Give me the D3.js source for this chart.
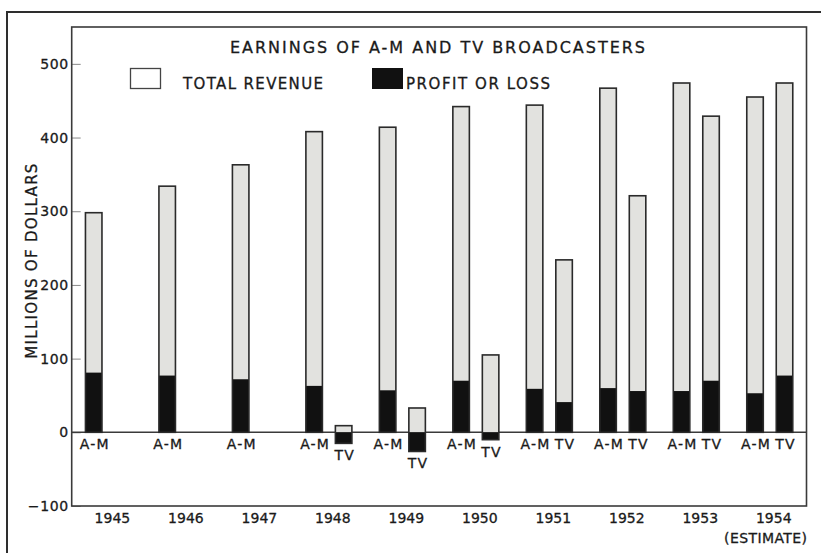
<!DOCTYPE html>
<html>
<head>
<meta charset="utf-8">
<script src="https://cdn.jsdelivr.net/npm/d3@7"></script>
<style>
  body { margin: 0; background: #fff; }
  text { font-family: "DejaVu Sans", sans-serif; fill: #1a1a1a; stroke: #1a1a1a; stroke-width: 0.3px; }
  .yAxis .tick line { stroke: #8a8a8a; }
  .yAxis .tick text { font-size: 14px; letter-spacing: 0.6px; }
</style>
</head>
<body>
<div id="chart"></div>
<script>
// DATA
const years = ["1945", "1946", "1947", "1948", "1949", "1950", "1951", "1952", "1953", "1954"];
const series = ["A-M", "TV"];
const amRevenue = [298, 334, 363, 408, 414, 442, 444, 467, 474, 455];
const amProfit = [81, 77, 72, 63, 57, 70, 59, 60, 56, 53];
const tvRevenue = [null, null, null, 9, 33, 105, 234, 321, 429, 474];
const tvProfit = [null, null, null, -15, -26, -10, 41, 56, 70, 77];
const yTicks = [-100, 0, 100, 200, 300, 400, 500];

const WIDTH = 821;
const HEIGHT = 553;
const PLOT = { LEFT: 71.7, RIGHT: 806.5, TOP: 27, BOTTOM: 506 };

const svg = d3
  .select("#chart")
  .append("svg")
  .attr("width", WIDTH)
  .attr("height", HEIGHT);

// PAGE BORDER (scan edge)
svg.append("path")
  .attr("d", `M7,${HEIGHT} V12 H${WIDTH}`)
  .attr("fill", "none")
  .attr("stroke", "#2e2e2e")
  .attr("stroke-width", 2);

// SCALES
const x0 = d3.scaleBand().domain(years).range([PLOT.LEFT, PLOT.RIGHT]).paddingInner(0);
const x1 = d3.scaleBand().domain(series).range([13.75, 59.75]).paddingInner(0.44);
const y = d3.scaleLinear().domain([-100, 550]).range([PLOT.BOTTOM, PLOT.TOP]);

// table built from arrays
const bars = [];
years.forEach((yr, i) => {
  bars.push({ year: yr, kind: "A-M", revenue: amRevenue[i], profit: amProfit[i] });
  if (tvRevenue[i] !== null) {
    bars.push({ year: yr, kind: "TV", revenue: tvRevenue[i], profit: tvProfit[i] });
  }
});

// AXIS
const yAxisGroup = svg.append("g")
  .attr("class", "yAxis")
  .attr("transform", `translate(${PLOT.LEFT}, 0)`)
  .call(d3.axisLeft(y).tickValues(yTicks).tickSize(-9).tickPadding(3))
  .call((g) => g.select(".domain").remove());

// ZERO LINE
svg.append("line")
  .attr("x1", PLOT.LEFT)
  .attr("x2", PLOT.RIGHT)
  .attr("y1", y(0))
  .attr("y2", y(0))
  .attr("stroke", "#3a3a3a")
  .attr("stroke-width", 1.6);

// BARS
const barG = svg.append("g")
  .selectAll("g")
  .data(bars)
  .enter()
  .append("g")
  .attr("transform", (d) => `translate(${x0(d.year) + x1(d.kind)}, 0)`);

barG.append("rect")
  .attr("x", 0)
  .attr("y", (d) => y(d.revenue))
  .attr("width", x1.bandwidth())
  .attr("height", (d) => y(0) - y(d.revenue))
  .attr("fill", "#e2e2df");

barG.append("rect")
  .attr("x", 0)
  .attr("y", (d) => y(Math.max(d.profit, 0)))
  .attr("width", x1.bandwidth())
  .attr("height", (d) => Math.abs(y(0) - y(d.profit)))
  .attr("fill", "#111");

barG.append("rect")
  .attr("x", 0)
  .attr("y", (d) => y(d.revenue))
  .attr("width", x1.bandwidth())
  .attr("height", (d) => y(Math.min(d.profit, 0)) - y(d.revenue))
  .attr("fill", "none")
  .attr("stroke", "#2a2a2a")
  .attr("stroke-width", 1.6);

// BAR LABELS
barG.append("text")
  .attr("x", x1.bandwidth() / 2 + 1)
  .attr("y", (d) => y(Math.min(d.profit, 0)) + 17)
  .attr("text-anchor", "middle")
  .attr("font-size", "14px")
  .attr("letter-spacing", "1.2px")
  .text((d) => d.kind);

// YEAR LABELS
svg.append("g")
  .selectAll("text")
  .data(years)
  .enter()
  .append("text")
  .attr("x", (d) => x0(d) + x0.bandwidth() / 2 + 4)
  .attr("y", 523)
  .attr("text-anchor", "middle")
  .attr("font-size", "14px")
  .text((d) => d);

svg.append("text")
  .attr("x", x0("1954") + x0.bandwidth() / 2 - 4)
  .attr("y", 543)
  .attr("text-anchor", "middle")
  .attr("font-size", "14px")
  .attr("letter-spacing", "0.4px")
  .text("(ESTIMATE)");

// FRAME
svg.append("rect")
  .attr("x", PLOT.LEFT)
  .attr("y", PLOT.TOP)
  .attr("width", PLOT.RIGHT - PLOT.LEFT)
  .attr("height", PLOT.BOTTOM - PLOT.TOP)
  .attr("fill", "none")
  .attr("stroke", "#3a3a3a")
  .attr("stroke-width", 1.6);

// TITLE
svg.append("text")
  .attr("x", 230)
  .attr("y", 53)
  .attr("font-size", "16px")
  .attr("textLength", 415)
  .attr("lengthAdjust", "spacing")
  .text("EARNINGS OF A-M AND TV BROADCASTERS");

// LEGEND
svg.append("rect")
  .attr("x", 130.5)
  .attr("y", 68.5)
  .attr("width", 30)
  .attr("height", 20)
  .attr("fill", "#fff")
  .attr("stroke", "#444")
  .attr("stroke-width", 1.3);

svg.append("text")
  .attr("x", 183)
  .attr("y", 89)
  .attr("font-size", "15px")
  .attr("textLength", 140)
  .attr("lengthAdjust", "spacing")
  .text("TOTAL REVENUE");

svg.append("rect")
  .attr("x", 372)
  .attr("y", 68)
  .attr("width", 31)
  .attr("height", 21)
  .attr("fill", "#111");

svg.append("text")
  .attr("x", 406)
  .attr("y", 89)
  .attr("font-size", "15px")
  .attr("textLength", 144)
  .attr("lengthAdjust", "spacing")
  .text("PROFIT OR LOSS");

// Y LABEL
svg.append("text")
  .attr("x", 37)
  .attr("y", 260.5)
  .attr("text-anchor", "middle")
  .attr("font-size", "15px")
  .attr("letter-spacing", "1.3px")
  .attr("transform", "rotate(-90, 37, 260.5)")
  .text("MILLIONS OF DOLLARS");
</script>
</body>
</html>
